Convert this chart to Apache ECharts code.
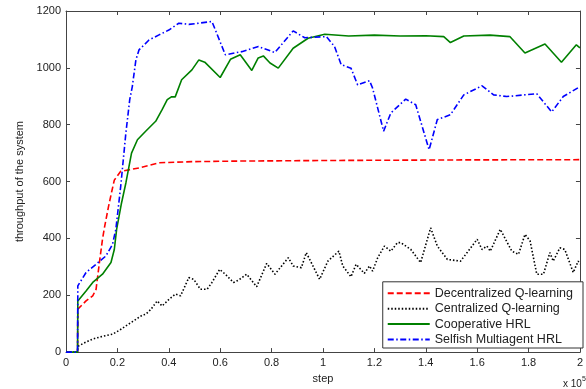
<!DOCTYPE html>
<html><head><meta charset="utf-8">
<script src="https://cdn.jsdelivr.net/npm/echarts@6/dist/echarts.min.js"></script>
<style>html,body{margin:0;padding:0;background:#fff}#c{width:586px;height:389px}</style>
</head><body><div id="c"></div>
<script>
const seriesNames = ['Decentralized Q-learning', 'Centralized Q-learning', 'Cooperative HRL', 'Selfish Multiagent HRL'];
const xTickLabels = ['0', '0.2', '0.4', '0.6', '0.8', '1', '1.2', '1.4', '1.6', '1.8', '2'];
const yTickLabels = ['0', '200', '400', '600', '800', '1000', '1200'];
const xAxisTitle = 'step';
const yAxisTitle = 'throughput of the system';
const xScaleNote = 'x 10';
const xScaleExp = '5';

// [step (x 10^5), throughput]
const decentralizedQ = [[0,0],[0.045,0],[0.046,151],[0.078,180],[0.104,198],[0.117,221],[0.13,315],[0.142,397],[0.15,440],[0.165,510],[0.178,565],[0.188,605],[0.2,620],[0.213,636],[0.25,642],[0.284,648],[0.362,666],[0.49,670],[0.67,672],[1.0,674],[1.5,676],[2.0,677]];
const centralizedQ = [[0,0],[0.045,0],[0.046,20],[0.07,32],[0.104,46],[0.14,55],[0.181,63],[0.21,78],[0.233,92],[0.26,108],[0.297,130],[0.31,133],[0.33,150],[0.355,180],[0.374,162],[0.4,185],[0.426,204],[0.446,198],[0.478,262],[0.497,256],[0.523,221],[0.549,221],[0.568,245],[0.598,291],[0.62,274],[0.633,262],[0.652,245],[0.671,253],[0.703,274],[0.742,230],[0.781,312],[0.813,274],[0.865,332],[0.884,303],[0.916,297],[0.935,350],[0.987,256],[1.019,320],[1.062,355],[1.077,303],[1.109,265],[1.129,309],[1.161,277],[1.181,303],[1.193,285],[1.213,332],[1.239,373],[1.264,355],[1.29,385],[1.303,385],[1.342,361],[1.38,315],[1.419,437],[1.445,373],[1.484,326],[1.535,320],[1.561,350],[1.6,397],[1.619,361],[1.638,373],[1.651,355],[1.69,432],[1.735,355],[1.761,344],[1.786,414],[1.806,391],[1.832,274],[1.858,274],[1.883,350],[1.896,320],[1.922,367],[1.941,361],[1.974,280],[1.993,320],[2.0,310]];
const cooperativeHRL = [[0,0],[0.045,0],[0.046,180],[0.078,215],[0.104,245],[0.142,274],[0.175,315],[0.188,361],[0.197,432],[0.215,520],[0.233,595],[0.255,700],[0.278,747],[0.31,777],[0.349,812],[0.374,853],[0.394,888],[0.41,898],[0.425,898],[0.45,958],[0.49,993],[0.517,1028],[0.54,1020],[0.6,966],[0.64,1030],[0.678,1046],[0.723,991],[0.748,1035],[0.768,1042],[0.794,1017],[0.826,999],[0.884,1069],[0.942,1104],[1.007,1118],[1.1,1112],[1.2,1115],[1.3,1112],[1.4,1113],[1.47,1110],[1.496,1089],[1.548,1112],[1.65,1115],[1.727,1110],[1.786,1052],[1.864,1084],[1.928,1020],[1.986,1081],[2.0,1070]];
const selfishHRL = [[0,0],[0.045,0],[0.046,233],[0.078,280],[0.117,309],[0.155,338],[0.181,379],[0.194,432],[0.205,520],[0.213,584],[0.233,771],[0.248,888],[0.258,934],[0.272,1028],[0.284,1063],[0.323,1098],[0.362,1116],[0.40,1133],[0.439,1157],[0.478,1153],[0.516,1157],[0.568,1163],[0.62,1046],[0.684,1057],[0.749,1075],[0.813,1054],[0.884,1130],[0.929,1106],[1.013,1110],[1.045,1075],[1.071,1011],[1.109,999],[1.135,940],[1.181,955],[1.193,929],[1.236,777],[1.264,841],[1.322,890],[1.361,870],[1.413,712],[1.445,818],[1.496,835],[1.548,905],[1.619,937],[1.664,905],[1.715,899],[1.832,909],[1.89,845],[1.935,899],[2.0,934]];

const font = 'Liberation Sans, Arial, sans-serif';
const axisCol = '#444';
const txtCol = '#222';
const chart = echarts.init(document.getElementById('c'), null, {renderer: 'canvas'});

function xAx(pos, labels) {
  return {
    type: 'value', position: pos, min: 0, max: 2, interval: 0.2,
    axisLine: {show: true, onZero: false, lineStyle: {color: axisCol, width: 1}},
    axisTick: {show: true, inside: true, length: 4, lineStyle: {color: axisCol}},
    splitLine: {show: false},
    axisLabel: {show: labels, margin: 5, color: txtCol, fontFamily: font, fontSize: 11,
      formatter: v => xTickLabels[Math.round(v / 0.2)]},
    name: labels ? xAxisTitle : '', nameLocation: 'middle', nameGap: 10,
    nameTextStyle: {color: txtCol, fontFamily: font, fontSize: 11}
  };
}
function yAx(pos, labels) {
  return {
    type: 'value', position: pos, min: 0, max: 1200, interval: 200,
    axisLine: {show: true, onZero: false, lineStyle: {color: axisCol, width: 1}},
    axisTick: {show: true, inside: true, length: 4, lineStyle: {color: axisCol}},
    splitLine: {show: false},
    axisLabel: {show: labels, margin: 5, color: txtCol, fontFamily: font, fontSize: 11,
      formatter: v => yTickLabels[Math.round(v / 200)]},
    name: labels ? yAxisTitle : '', nameLocation: 'middle', nameGap: 41, nameRotate: 90,
    nameTextStyle: {color: txtCol, fontFamily: font, fontSize: 11}
  };
}

const styles = [
  {color: '#ff0000', type: [6, 3]},
  {color: '#000000', type: [1.5, 2]},
  {color: '#008000', type: 'solid'},
  {color: '#0000ff', type: [6, 2.5, 1.5, 2.5]}
];
const datas = [decentralizedQ, centralizedQ, cooperativeHRL, selfishHRL];

chart.setOption({
  animation: false,
  backgroundColor: '#fff',
  grid: {left: 66, right: 3, top: 11, bottom: 36, containLabel: false},
  xAxis: [xAx('bottom', true), xAx('top', false)],
  yAxis: [yAx('left', true), yAx('right', false)],
  legend: {
    show: true, type: 'plain',
    orient: 'vertical', right: 3, bottom: 41,
    data: seriesNames,
    itemWidth: 42, itemHeight: 12, itemGap: 2.4, padding: [5, 10, 2, 4],
    backgroundColor: '#fff', borderColor: '#333', borderWidth: 1, borderRadius: 0,
    itemStyle: {opacity: 0, color: 'rgba(0,0,0,0)', borderWidth: 0},
    textStyle: {color: txtCol, fontFamily: font, fontSize: 12.5, lineHeight: 12},
    selectedMode: false
  },
  graphic: [{
    type: 'text', left: 563, top: 376,
    style: {
      text: '{a|' + xScaleNote + '}{b|' + xScaleExp + '}',
      rich: {
        a: {fontFamily: font, fontSize: 10, fill: txtCol, verticalAlign: 'bottom'},
        b: {fontFamily: font, fontSize: 7, fill: txtCol, verticalAlign: 'top', padding: [0, 0, 6, 0]}
      }
    }
  }],
  series: datas.map((d, i) => ({
    name: seriesNames[i], type: 'line', data: d, symbol: 'none', showSymbol: false,
    lineStyle: {color: styles[i].color, width: 1.6, type: styles[i].type},
    itemStyle: {color: styles[i].color},
    z: 2 + i
  }))
});
</script></body></html>
